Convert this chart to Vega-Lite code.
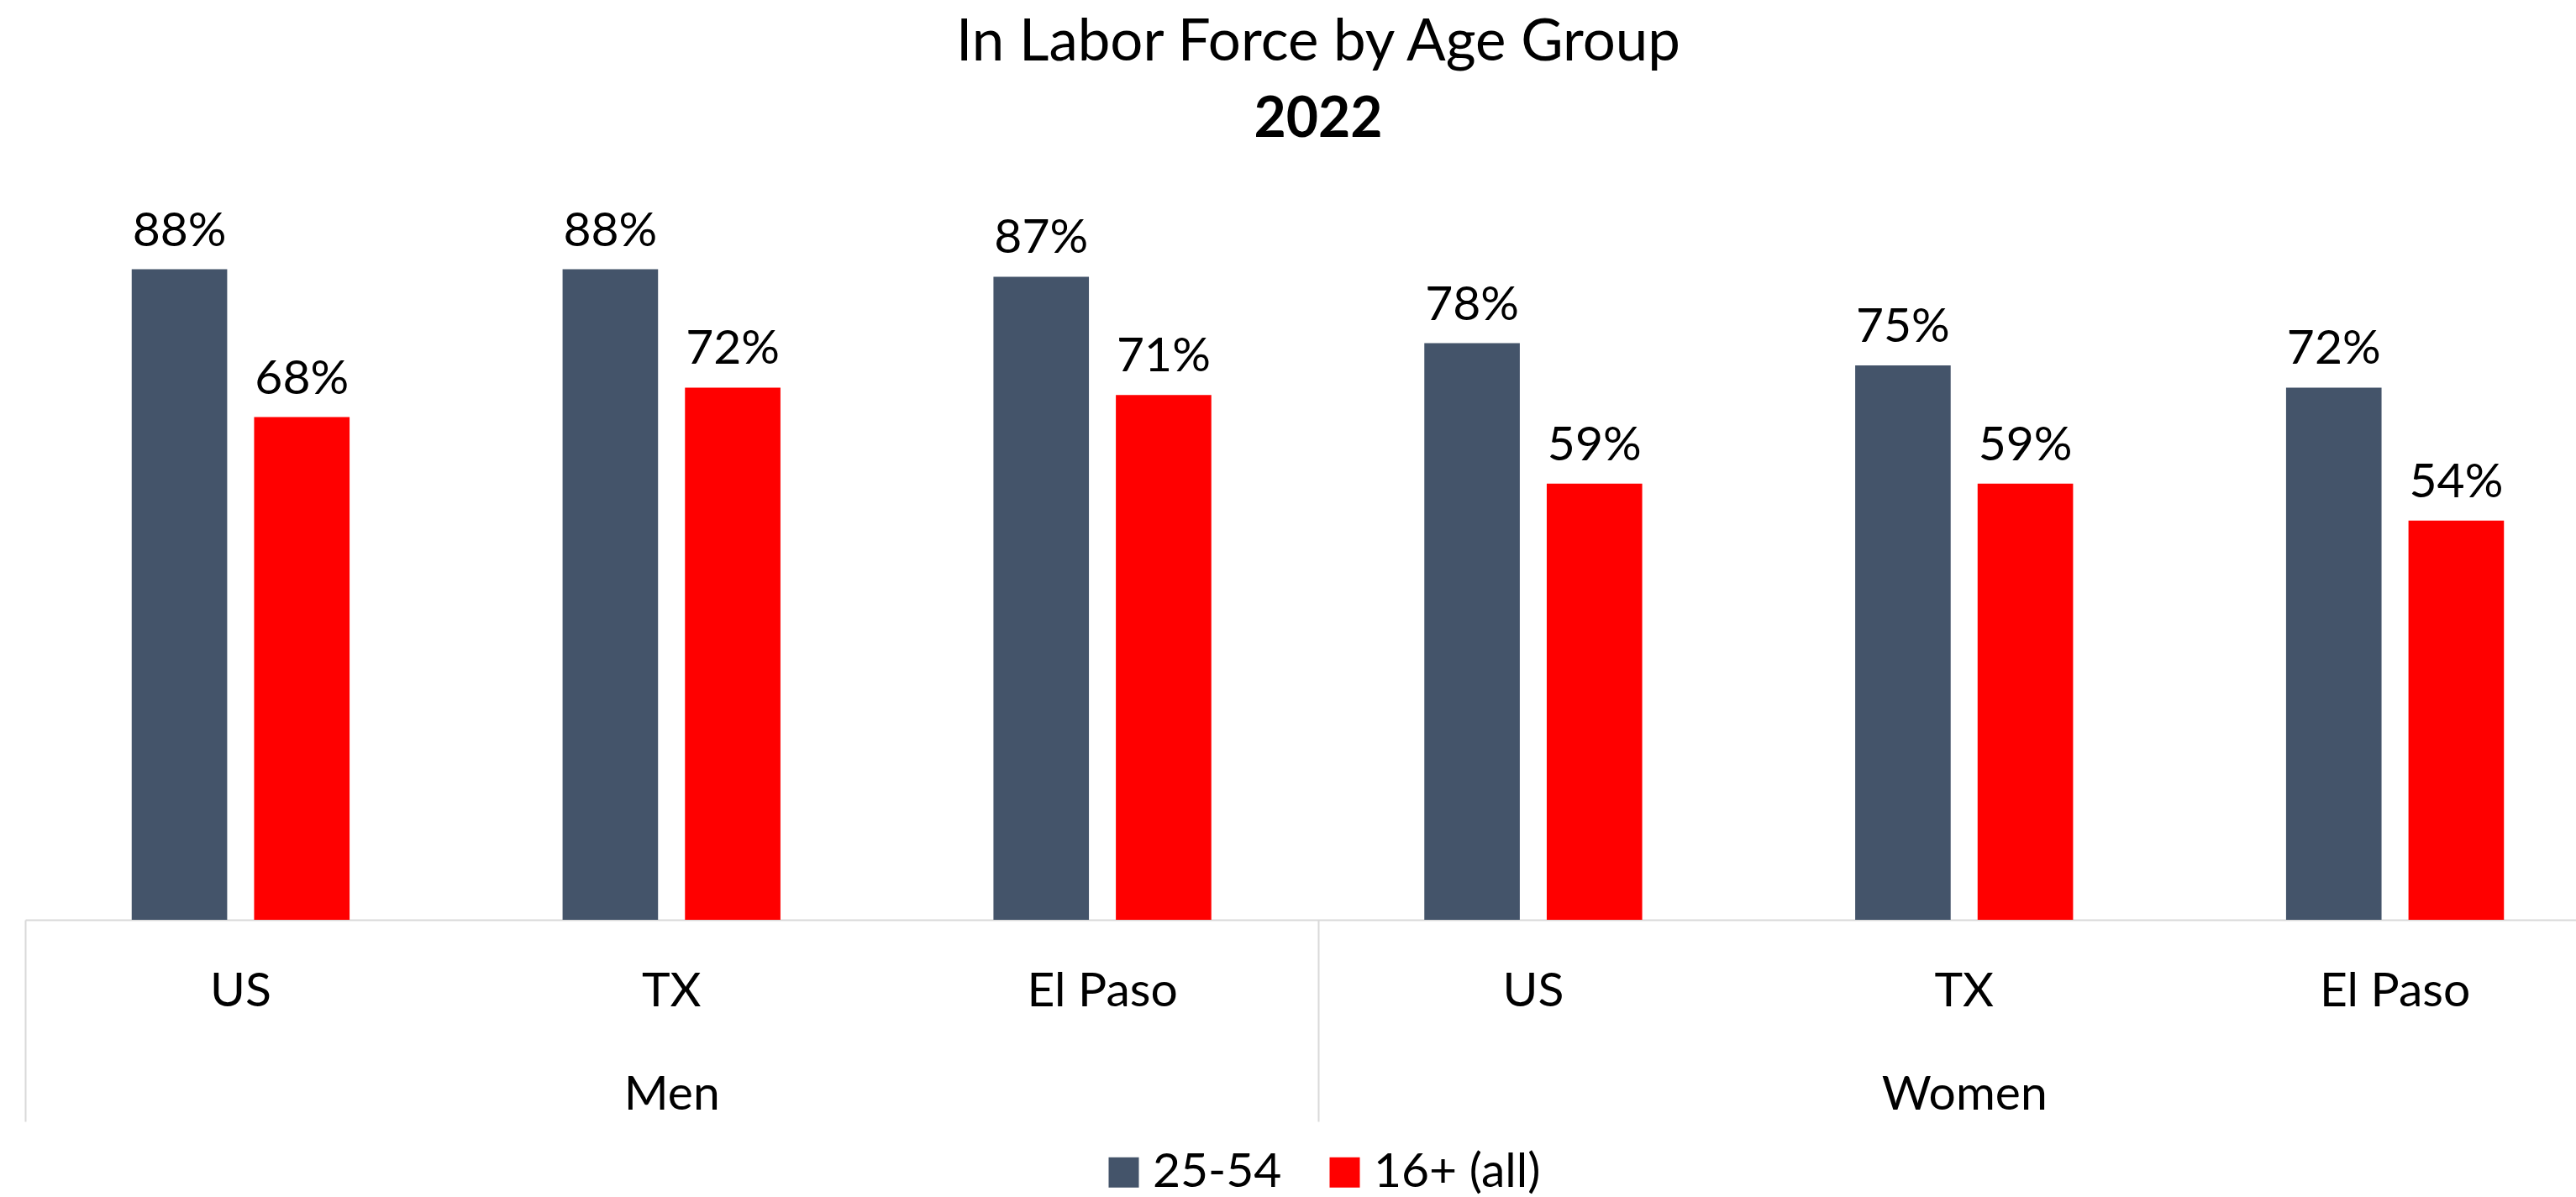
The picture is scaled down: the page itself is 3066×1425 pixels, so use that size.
{
  "$schema": "https://vega.github.io/schema/vega-lite/v6.json",
  "width": 3036,
  "height": 880,
  "autosize": {"type": "none"},
  "padding": {"left": 30, "top": 215, "right": 0, "bottom": 330},
  "background": "white",
  "title": {
    "text": "In Labor Force by Age Group",
    "subtitle": "2022",
    "font": "Lato", "fontSize": 69, "fontWeight": "normal", "color": "black",
    "subtitleFont": "Lato", "subtitleFontSize": 66, "subtitleFontWeight": "bold", "subtitleColor": "black",
    "anchor": "middle", "dx": 21, "offset": 39, "subtitlePadding": 25
  },
  "config": {"view": {"stroke": null}},
  "data": {
    "values": [
      {"gender": "Men", "location": "US", "key": "Men|US", "series": "25-54", "value": 0.88},
      {"gender": "Men", "location": "US", "key": "Men|US", "series": "16+ (all)", "value": 0.68},
      {"gender": "Men", "location": "TX", "key": "Men|TX", "series": "25-54", "value": 0.88},
      {"gender": "Men", "location": "TX", "key": "Men|TX", "series": "16+ (all)", "value": 0.72},
      {"gender": "Men", "location": "El Paso", "key": "Men|El Paso", "series": "25-54", "value": 0.87},
      {"gender": "Men", "location": "El Paso", "key": "Men|El Paso", "series": "16+ (all)", "value": 0.71},
      {"gender": "Women", "location": "US", "key": "Women|US", "series": "25-54", "value": 0.78},
      {"gender": "Women", "location": "US", "key": "Women|US", "series": "16+ (all)", "value": 0.59},
      {"gender": "Women", "location": "TX", "key": "Women|TX", "series": "25-54", "value": 0.75},
      {"gender": "Women", "location": "TX", "key": "Women|TX", "series": "16+ (all)", "value": 0.59},
      {"gender": "Women", "location": "El Paso", "key": "Women|El Paso", "series": "25-54", "value": 0.72},
      {"gender": "Women", "location": "El Paso", "key": "Women|El Paso", "series": "16+ (all)", "value": 0.54}
    ]
  },
  "layer": [
    {
      "layer": [
        {
          "mark": {"type": "bar"},
          "encoding": {
            "x": {
              "field": "key", "type": "nominal", "sort": null,
              "scale": {"range": [0, 3077], "paddingInner": 0, "paddingOuter": 0},
              "axis": {
                "orient": "bottom", "title": null, "domainColor": "#D9D9D9", "domainWidth": 2,
                "ticks": false, "tickSize": 0, "labelPadding": 102, "labelBaseline": "alphabetic",
                "labelExpr": "split(datum.label, '|')[1]", "labelAngle": 0, "labelLimit": 1000,
                "labelFont": "Lato", "labelFontSize": 57, "labelColor": "black", "labelOverlap": false
              }
            },
            "xOffset": {
              "field": "series", "type": "nominal", "sort": ["25-54", "16+ (all)"],
              "scale": {"paddingInner": 0.22, "paddingOuter": 0.87}
            },
            "y": {"field": "value", "type": "quantitative", "scale": {"domain": [0, 1]}, "axis": null},
            "color": {
              "field": "series", "type": "nominal", "sort": ["25-54", "16+ (all)"],
              "scale": {"domain": ["25-54", "16+ (all)"], "range": ["#44546A", "#FF0000"]},
              "legend": {
                "orient": "none", "legendX": 1279, "legendY": 1152, "direction": "horizontal",
                "title": null, "symbolType": "square", "symbolSize": 1296, "symbolStrokeWidth": 0,
                "symbolOpacity": 1, "labelFont": "Lato", "labelFontSize": 57, "labelColor": "black",
                "labelOffset": 6, "columnPadding": 46, "labelLimit": 1000, "padding": 0
              }
            }
          }
        },
        {
          "mark": {"type": "text", "baseline": "alphabetic", "dy": -28, "font": "Lato", "fontSize": 57, "color": "black"},
          "encoding": {
            "x": {
              "field": "key", "type": "nominal", "sort": null,
              "scale": {"range": [0, 3077], "paddingInner": 0, "paddingOuter": 0},
              "axis": {
                "orient": "bottom", "title": null, "domainColor": "#D9D9D9", "domainWidth": 2,
                "ticks": false, "tickSize": 0, "labelPadding": 102, "labelBaseline": "alphabetic",
                "labelExpr": "split(datum.label, '|')[1]", "labelAngle": 0, "labelLimit": 1000,
                "labelFont": "Lato", "labelFontSize": 57, "labelColor": "black", "labelOverlap": false
              }
            },
            "xOffset": {
              "field": "series", "type": "nominal", "sort": ["25-54", "16+ (all)"],
              "scale": {"paddingInner": 0.22, "paddingOuter": 0.87}
            },
            "y": {"field": "value", "type": "quantitative", "scale": {"domain": [0, 1]}, "axis": null},
            "text": {"field": "value", "type": "quantitative", "format": ".0%"}
          }
        }
      ]
    },
    {
      "mark": {"type": "rule", "strokeOpacity": 0},
      "encoding": {
        "x": {
          "field": "gender", "type": "nominal", "sort": null,
          "scale": {"range": [0, 3077], "paddingInner": 0, "paddingOuter": 0},
          "axis": {
            "orient": "bottom", "title": null, "domain": false, "ticks": true, "tickBand": "extent",
            "tickSize": 240, "tickColor": "#D9D9D9", "tickWidth": 2, "labelPadding": -15,
            "labelBaseline": "alphabetic", "labelAngle": 0, "labelLimit": 1000,
            "labelFont": "Lato", "labelFontSize": 57, "labelColor": "black", "labelOverlap": false
          }
        }
      }
    }
  ],
  "resolve": {"scale": {"x": "independent"}, "axis": {"x": "independent"}}
}
